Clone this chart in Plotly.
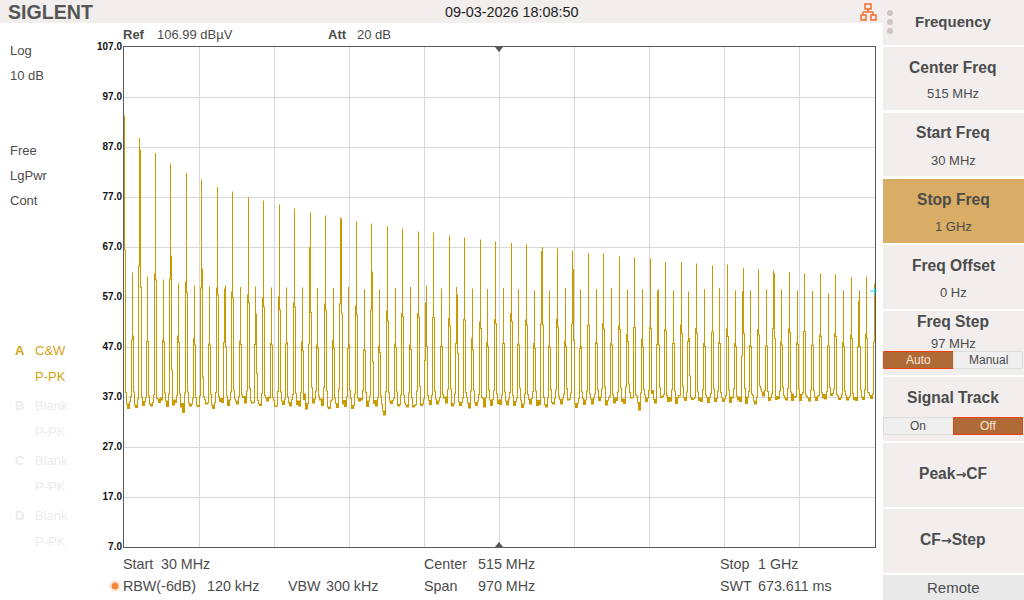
import plotly.graph_objects as go

# Sweep settings of the analyzer
START_MHZ = 30.0
STOP_MHZ = 1000.0
SWEEP_POINTS = 751
REF_DBUV = 107.0
BOTTOM_DBUV = 7.0

# Harmonic comb on a 10 MHz raster, from 30 MHz up to 1 GHz
harmonic_mhz = [
    30, 40, 50, 60, 70, 80, 90, 100, 110, 120, 130, 140, 150, 160, 170, 180, 190, 200, 210, 220,
    230, 240, 250, 260, 270, 280, 290, 300, 310, 320, 330, 340, 350, 360, 370, 380, 390, 400, 410, 420,
    430, 440, 450, 460, 470, 480, 490, 500, 510, 520, 530, 540, 550, 560, 570, 580, 590, 600, 610, 620,
    630, 640, 650, 660, 670, 680, 690, 700, 710, 720, 730, 740, 750, 760, 770, 780, 790, 800, 810, 820,
    830, 840, 850, 860, 870, 880, 890, 900, 910, 920, 930, 940, 950, 960, 970, 980, 990, 1000,
]

# Level of the sweep point on each harmonic
peak_dbuv = [
    93.2, 61.8, 88.7, 61.0, 85.7, 60.4, 83.6, 59.6, 81.7, 59.2, 80.4, 59.0, 78.9, 59.2, 78.0, 58.9, 76.9, 59.0, 76.2, 58.8,
    75.4, 58.8, 74.6, 58.8, 73.8, 58.7, 73.2, 58.7, 72.8, 58.9, 72.0, 58.5, 71.6, 58.4, 71.0, 58.7, 70.6, 58.9, 70.0, 59.2,
    69.8, 58.6, 69.2, 58.9, 68.8, 58.6, 68.4, 58.5, 68.0, 58.7, 67.7, 58.5, 67.4, 58.2, 66.9, 58.2, 66.6, 58.7, 66.2, 58.4,
    65.7, 58.5, 65.6, 58.7, 65.0, 58.4, 64.8, 58.5, 64.6, 58.5, 63.9, 58.2, 63.9, 58.0, 63.6, 58.5, 63.2, 58.7, 63.4, 58.2,
    62.7, 58.2, 62.4, 58.4, 62.2, 58.4, 61.9, 58.2, 61.6, 58.1, 61.6, 57.6, 61.4, 58.2, 60.9, 58.2, 61.0, 59.6,
]

# Level of the sweep point just below each harmonic
lower_skirt_dbuv = [
    None, 48.4, 63.2, 48.1, 61.6, 48.4, 60.6, 49.2, 60.0, 48.7, 58.8, 47.6, 58.8, 58.6, 58.0, 48.2, 57.4, 47.5, 56.8, 47.7,
    57.0, 47.6, 55.8, 48.0, 66.9, 47.4, 55.6, 48.4, 55.6, 46.7, 55.2, 46.4, 54.4, 47.2, 54.2, 47.6, 53.7, 47.4, 53.7, 55.8,
    52.9, 47.2, 52.7, 47.7, 52.5, 48.7, 52.0, 47.9, 52.5, 47.7, 53.7, 47.6, 52.4, 47.7, 66.1, 47.2, 52.6, 48.1, 51.6, 46.7,
    51.4, 47.9, 51.7, 47.7, 51.2, 49.5, 50.9, 48.6, 50.9, 58.2, 50.5, 47.7, 51.4, 48.1, 50.7, 47.7, 50.0, 47.9, 50.6, 47.7,
    58.1, 47.3, 50.5, 47.2, 50.7, 48.0, 50.6, 47.9, 50.1, 47.4, 49.4, 47.2, 49.7, 47.9, 49.4, 56.1, 49.6, 48.0,
]

# Level of the sweep point just above each harmonic
upper_skirt_dbuv = [
    66.4, 49.2, 86.4, 48.1, 60.4, 48.0, 65.2, 47.9, 57.9, 47.4, 62.6, 47.4, 57.4, 47.1, 56.8, 47.5, 55.8, 53.6, 55.0, 47.4,
    54.4, 47.9, 55.0, 46.2, 53.9, 46.7, 54.4, 46.7, 72.6, 47.4, 53.4, 46.3, 62.0, 45.9, 52.2, 46.9, 53.1, 46.5, 52.9, 47.1,
    52.9, 47.1, 51.2, 57.4, 52.4, 46.4, 50.7, 47.1, 51.7, 47.7, 52.1, 47.4, 51.4, 46.7, 51.4, 46.9, 51.0, 47.1, 62.5, 47.1,
    51.4, 47.7, 50.6, 47.4, 50.5, 48.1, 50.9, 47.0, 50.7, 47.4, 50.2, 47.7, 49.7, 48.7, 49.7, 47.1, 50.0, 47.7, 49.1, 47.1,
    49.7, 47.1, 49.4, 47.2, 61.7, 47.4, 49.9, 47.5, 50.1, 47.4, 49.1, 47.2, 49.1, 47.1, 48.7, 47.1, 48.7, None,
]

# Second point out from each harmonic, on the foot of its skirt
lower_foot_dbuv = [
    None, 37.1, 36.6, 36.9, 37.4, 36.4, 37.6, 37.3, 37.8, 36.7, 37.2, 35.8, 37.9, 37.0, 38.0, 37.1, 38.2, 35.9, 37.7, 36.8,
    38.1, 36.6, 37.5, 37.9, 37.4, 38.2, 38.9, 36.4, 38.6, 37.0, 37.6, 38.3, 37.2, 36.9, 38.1, 36.7, 37.4, 37.8, 38.2, 37.0,
    37.3, 36.9, 38.5, 37.6, 36.8, 38.2, 37.5, 36.9, 38.3, 37.4, 37.9, 36.8, 37.6, 38.1, 37.1, 36.9, 38.4, 37.5, 37.8, 36.7,
    38.2, 37.6, 38.6, 37.2, 38.0, 39.0, 36.9, 37.8, 38.3, 37.1, 37.5, 38.4, 37.2, 38.0, 36.9, 38.5, 37.7, 38.2, 37.3, 38.6,
    37.4, 38.1, 37.0, 38.3, 37.6, 38.2, 38.7, 37.1, 37.9, 38.4, 37.3, 38.1, 38.6, 37.5, 37.2, 38.0, 38.5, 37.6,
]
upper_foot_dbuv = [
    37.9, 38.0, 36.8, 37.2, 36.7, 37.8, 38.4, 37.6, 38.0, 36.9, 37.3, 37.5, 37.1, 37.2, 38.4, 37.4, 38.7, 38.1, 37.3, 36.9,
    38.0, 37.0, 37.7, 36.5, 38.9, 37.2, 38.2, 36.7, 37.4, 38.3, 36.8, 37.9, 38.6, 37.2, 37.8, 38.0, 37.4, 36.8, 39.1, 37.3,
    38.2, 37.5, 38.6, 37.1, 37.9, 38.3, 37.0, 38.4, 37.6, 38.0, 37.3, 38.8, 37.5, 38.2, 36.9, 38.5, 37.2, 38.7, 37.1, 38.0,
    37.6, 38.4, 39.0, 37.5, 38.8, 39.6, 37.4, 38.5, 37.7, 38.9, 37.3, 38.2, 39.1, 37.8, 38.0, 37.4, 38.6, 37.9, 38.4, 37.2,
    38.7, 37.6, 39.2, 38.1, 37.5, 39.0, 38.0, 38.6, 37.4, 38.3, 37.8, 38.9, 37.5, 38.2, 37.7, 38.4, 37.9, None,
]

# Isolated points on the flanks of the stronger harmonics
flank_mhz = [52.0, 92.1, 132.2, 158.0, 202.0, 268.0, 311.9, 352.0, 418.0, 462.0, 568.0, 612.0, 718.0, 762.0, 828.0, 872.0, 978.0]
flank_dbuv = [58.9, 42.4, 41.0, 47.9, 41.7, 47.6, 53.6, 44.1, 44.3, 45.7, 51.6, 48.3, 47.5, 41.2, 45.2, 48.7, 47.0]

# Noise floor, one value per sweep point, 25 points to a row
noise_floor_rows = [
    [37.0, 37.4, 37.2, 35.6, 34.7, 36.1, 35.3, 36.4, 35.2, 34.6, 35.8, 35.4, 34.9, 34.6, 36.2, 35.1, 36.7, 35.5, 37.0, 35.3, 36.1, 35.0, 34.9, 36.3, 35.2],
    [36.3, 35.6, 35.2, 35.9, 34.8, 36.5, 35.8, 36.1, 35.5, 36.6, 35.9, 36.8, 36.4, 35.3, 36.7, 35.4, 36.6, 36.2, 35.1, 35.9, 36.4, 35.2, 36.9, 35.6, 35.4],
    [36.4, 35.9, 35.4, 36.5, 34.9, 36.3, 35.6, 35.0, 35.7, 33.9, 35.1, 35.4, 36.2, 35.3, 36.6, 35.8, 35.2, 35.6, 36.2, 35.9, 34.9, 36.4, 35.7, 35.3, 35.1],
    [35.4, 34.8, 35.5, 36.1, 35.3, 37.1, 36.5, 35.6, 35.4, 34.8, 36.3, 35.2, 35.0, 35.4, 34.7, 35.9, 36.3, 36.6, 35.4, 36.1, 35.1, 36.1, 36.7, 35.9, 35.5],
    [36.2, 35.1, 35.6, 35.1, 35.3, 36.4, 36.8, 36.9, 35.2, 36.3, 35.4, 36.6, 36.2, 35.6, 36.3, 36.6, 35.1, 36.4, 35.3, 36.9, 37.1, 35.8, 35.0, 35.9, 36.3],
    [35.3, 36.5, 36.2, 35.8, 35.4, 36.1, 35.2, 36.6, 35.5, 36.3, 35.6, 35.3, 34.9, 35.6, 36.4, 35.2, 36.1, 36.8, 36.2, 37.0, 36.6, 36.2, 35.3, 36.5, 35.4],
    [36.3, 35.1, 35.2, 35.7, 36.2, 36.4, 36.6, 35.3, 36.2, 35.5, 35.8, 36.2, 36.7, 36.1, 36.3, 35.9, 35.2, 36.5, 35.4, 35.6, 36.8, 36.4, 37.3, 35.5, 36.2],
    [35.2, 36.4, 36.2, 35.0, 34.1, 33.5, 37.6, 34.6, 35.7, 35.4, 36.2, 35.3, 36.5, 37.4, 35.8, 36.6, 35.1, 34.7, 35.4, 36.3, 35.2, 36.4, 36.6, 35.3, 35.5],
    [36.3, 35.4, 35.2, 35.9, 35.0, 34.7, 36.2, 35.3, 36.4, 36.8, 35.1, 36.2, 35.7, 34.9, 36.3, 35.4, 36.5, 36.9, 36.7, 35.6, 36.3, 35.1, 36.4, 35.2, 36.1],
    [35.4, 35.9, 36.7, 34.7, 35.3, 34.9, 35.6, 35.3, 36.4, 35.2, 36.2, 36.7, 36.4, 36.1, 36.8, 35.5, 34.2, 34.7, 35.1, 36.2, 35.3, 36.5, 35.8, 35.6, 35.4],
    [35.7, 36.3, 35.2, 35.9, 35.0, 34.9, 35.2, 35.3, 35.5, 34.2, 33.4, 34.6, 34.9, 35.6, 36.4, 35.1, 36.2, 35.7, 36.3, 35.6, 36.2, 36.5, 35.3, 36.4, 35.2],
    [35.5, 35.4, 35.0, 36.5, 34.9, 35.6, 35.8, 35.4, 35.0, 36.3, 35.2, 36.4, 36.1, 35.7, 35.0, 35.3, 35.5, 35.7, 36.5, 35.4, 36.2, 35.1, 35.3, 35.6, 36.6],
    [35.7, 36.4, 35.3, 35.8, 36.1, 36.3, 35.5, 36.5, 35.0, 35.9, 36.2, 35.4, 36.6, 35.6, 36.2, 36.5, 35.7, 35.0, 35.3, 36.2, 36.8, 37.0, 35.8, 36.4, 35.5],
    [36.2, 35.4, 37.2, 35.2, 35.7, 36.3, 36.9, 35.6, 36.4, 35.3, 36.1, 35.3, 35.9, 35.4, 36.1, 35.7, 36.5, 35.6, 36.9, 35.8, 34.8, 36.3, 35.5, 36.4, 35.5],
    [36.2, 35.9, 35.3, 36.2, 36.5, 35.4, 36.6, 35.7, 36.8, 36.7, 35.0, 35.9, 35.4, 35.9, 36.8, 35.5, 36.4, 35.3, 36.5, 36.7, 35.4, 36.5, 36.2, 36.8, 35.7],
    [36.4, 35.5, 36.8, 35.6, 36.2, 35.8, 35.0, 36.2, 35.4, 36.6, 35.9, 36.5, 35.7, 35.2, 36.2, 35.3, 36.1, 35.5, 35.7, 36.4, 35.6, 36.6, 36.4, 34.9, 35.6],
    [36.3, 35.7, 36.6, 36.2, 36.8, 36.5, 35.6, 36.7, 35.4, 36.5, 35.9, 36.4, 35.6, 35.3, 36.3, 35.5, 36.6, 36.7, 36.3, 35.7, 35.9, 35.5, 35.0, 34.7, 35.8],
    [36.4, 35.4, 36.9, 35.9, 35.6, 36.7, 35.4, 36.3, 36.2, 36.3, 36.9, 36.5, 35.6, 36.6, 35.5, 36.5, 35.9, 35.6, 35.2, 36.4, 36.6, 37.0, 35.7, 36.4, 35.5],
    [36.1, 35.7, 34.9, 35.8, 36.7, 36.9, 36.2, 36.3, 35.6, 36.7, 35.5, 36.4, 35.9, 36.5, 35.8, 35.4, 36.3, 36.6, 35.6, 36.8, 35.7, 35.8, 36.2, 36.9, 36.1],
    [36.3, 37.0, 36.7, 35.8, 36.5, 35.6, 36.1, 35.4, 36.3, 36.9, 36.5, 35.7, 36.4, 35.6, 36.7, 35.8, 36.8, 36.3, 36.5, 35.9, 35.7, 36.2, 35.8, 36.1, 36.6],
    [35.7, 36.5, 36.7, 37.2, 38.4, 37.6, 37.9, 36.8, 36.2, 36.9, 35.8, 36.7, 35.9, 37.2, 35.9, 34.4, 36.2, 35.0, 35.8, 36.7, 36.9, 37.4, 36.1, 36.8, 35.7],
    [36.5, 38.2, 37.6, 37.0, 38.3, 36.5, 35.8, 36.9, 36.2, 37.0, 36.3, 35.9, 36.9, 37.1, 36.4, 37.2, 36.8, 35.9, 36.7, 36.1, 36.9, 36.2, 36.6, 37.0, 36.2],
    [36.7, 36.1, 35.7, 36.9, 37.3, 36.5, 35.9, 36.8, 36.1, 36.6, 36.9, 36.3, 37.4, 36.2, 36.8, 35.8, 36.6, 37.0, 36.5, 36.7, 37.4, 37.2, 36.1, 36.9, 35.9],
    [36.3, 36.8, 36.1, 37.0, 37.6, 37.9, 36.8, 36.2, 36.9, 35.9, 37.0, 36.6, 35.8, 36.2, 36.9, 36.4, 36.1, 36.7, 34.9, 36.5, 36.1, 38.2, 37.6, 36.9, 36.1],
    [36.6, 37.1, 36.4, 35.9, 36.8, 36.2, 35.9, 37.0, 36.8, 36.6, 35.9, 37.1, 36.3, 36.9, 36.4, 37.0, 36.1, 36.7, 37.8, 36.5, 36.8, 36.5, 35.7, 37.0, 36.6],
    [36.1, 36.9, 36.3, 36.9, 37.3, 36.2, 35.6, 36.4, 36.8, 35.9, 37.0, 36.2, 38.6, 38.0, 37.2, 36.8, 35.7, 36.4, 37.1, 36.2, 36.3, 36.9, 39.2, 37.0, 36.3],
    [36.9, 36.2, 36.5, 37.1, 36.7, 37.2, 36.6, 36.1, 37.0, 36.4, 37.3, 36.8, 36.4, 37.1, 36.9, 37.0, 36.2, 36.9, 36.3, 37.6, 36.9, 36.4, 37.3, 37.1, 36.4],
    [37.0, 36.3, 37.5, 35.4, 37.5, 35.7, 36.9, 36.4, 37.1, 36.8, 36.2, 37.0, 36.8, 37.2, 36.5, 36.9, 37.0, 36.3, 37.2, 36.5, 36.3, 36.8, 36.4, 37.2, 36.8],
    [37.5, 36.6, 37.0, 36.4, 37.2, 36.5, 36.4, 37.3, 37.7, 36.4, 37.0, 36.3, 37.1, 36.6, 37.2, 36.5, 36.8, 37.1, 36.7, 36.2, 37.0, 36.4, 37.3, 36.4, 36.9],
    [36.2, 37.1, 36.5, 37.2, 36.3, 36.5, 36.9, 36.3, 35.8, 37.1, 36.2, 36.5, 34.5, 37.0, 36.5, 35.2, 37.2, 36.9, 36.6, 37.4, 37.8, 37.3, 36.7, 37.2, 36.4],
    [36.8],
]

# Vertical axis labels
level_ticks = [107.0, 97.0, 87.0, 77.0, 67.0, 57.0, 47.0, 37.0, 27.0, 17.0, 7.0]
level_labels = ["107.0", "97.0", "87.0", "77.0", "67.0", "57.0", "47.0", "37.0", "27.0", "17.0", "7.0"]

# Screen furniture
TRACE = "#C89B00"
TEXT = "#4C4C4C"
DIM = "#ECECEC"
ACCENT = "#D4A414"
BAND = "#F1EEED"
FONT = "Liberation Sans"
ARROW = "<span style=\"font-family:'DejaVu Sans';font-size:13px\">→</span>"

# Assemble the sweep: floor first, then feet, flanks, skirts and harmonics on top
trace = [v for row in noise_floor_rows for v in row]
step = (STOP_MHZ - START_MHZ) / (SWEEP_POINTS - 1)


def point_of(freq):
    return int(round((freq - START_MHZ) / step))


for f, low_foot, high_foot in zip(harmonic_mhz, lower_foot_dbuv, upper_foot_dbuv):
    n = point_of(f)
    if low_foot is not None:
        trace[n - 2] = low_foot
    if high_foot is not None:
        trace[n + 2] = high_foot
for f, level in zip(flank_mhz, flank_dbuv):
    trace[point_of(f)] = level
for f, low, peak, high in zip(harmonic_mhz, lower_skirt_dbuv, peak_dbuv, upper_skirt_dbuv):
    n = point_of(f)
    if low is not None:
        trace[n - 1] = low
    if high is not None:
        trace[n + 1] = high
    trace[n] = peak

# Each sweep point paints one display column, spanning the gap to its neighbours
xs, ys = [], []
for n, v in enumerate(trace):
    prev_v = trace[n - 1] if n else v
    next_v = trace[n + 1] if n < SWEEP_POINTS - 1 else v
    bottom = min(v, prev_v, next_v)
    top = max(v, min(prev_v, next_v))
    f = START_MHZ + n * step
    xs += [f, f, None]
    ys += [bottom - 0.1, top + 0.1, None]

fig = go.Figure()
fig.add_trace(go.Scatter(x=xs, y=ys, mode="lines", line=dict(color=TRACE, width=1), hoverinfo="skip", showlegend=False))


# Screen helpers: pixel positions converted to the plot's paper coordinates
def px(p):
    return (p - 124) / 751


def py(p):
    return 1 - (p - 47) / 500


shapes = []
annotations = []


def rect(x0, y0, x1, y1, fill, line=None, width=1):
    shapes.append(dict(type="rect", xref="paper", yref="paper", x0=px(x0), x1=px(x1), y0=py(y0), y1=py(y1),
                       fillcolor=fill, line=dict(color=line, width=width) if line else dict(width=0), layer="below"))


def poly(points, fill, layer="above"):
    path = "M " + " L ".join(f"{px(a):.5f} {py(b):.5f}" for a, b in points) + " Z"
    shapes.append(dict(type="path", xref="paper", yref="paper", path=path, fillcolor=fill, line=dict(width=0), layer=layer))


def seg(x0, y0, x1, y1, color, width=1):
    shapes.append(dict(type="line", xref="paper", yref="paper", x0=px(x0), x1=px(x1), y0=py(y0), y1=py(y1),
                       line=dict(color=color, width=width), layer="above"))


def label(x, y, text, size=13, color=TEXT, bold=False, anchor="left", family=FONT):
    annotations.append(dict(xref="paper", yref="paper", x=px(x), y=py(y), text=text, showarrow=False, xanchor=anchor,
                            yanchor="middle", borderpad=0, borderwidth=0,
                            font=dict(family=family, size=size, color=color, weight="bold" if bold else "normal")))


# Title band
rect(0, 0, 883, 23, BAND)
label(8, 12, "SIGLENT", size=19.6, color="#555555", bold=True)
label(512, 12, "09-03-2026 18:08:50", size=14.4, color="#222222", anchor="center")

# Network status icon
ICON = "#F0702C"
for x0, y0, x1, y1 in [(865, 4, 871, 9), (861, 15, 866, 20), (871, 15, 876, 20)]:
    shapes.append(dict(type="rect", xref="paper", yref="paper", x0=px(x0), x1=px(x1), y0=py(y0), y1=py(y1),
                       line=dict(color=ICON, width=1.5), layer="above"))
seg(868, 9, 868, 12, ICON, 1.5)
seg(863, 12, 873, 12, ICON, 1.5)
seg(863, 12, 863, 15, ICON, 1.5)
seg(873, 12, 873, 15, ICON, 1.5)

# Softkey column
rect(883, 0, 1024, 45, BAND)
for top, bottom, fill in [(47, 110, BAND), (113, 176, BAND), (179, 243, "#D9AD65"), (245, 309, BAND), (311, 375, BAND),
                          (377, 441, BAND), (443, 507, BAND), (509, 573, BAND), (575, 600, "#E9E9E9")]:
    rect(883, top, 1024, bottom, fill)
for dot_y in (13, 22, 31):
    shapes.append(dict(type="circle", xref="paper", yref="paper", x0=px(887), x1=px(893), y0=py(dot_y - 3), y1=py(dot_y + 3),
                       fillcolor="#CFC6C2", line=dict(width=0), layer="below"))

label(953, 22, "Frequency", size=15, bold=True, anchor="center")
label(953, 67, "Center Freq", size=15.6, bold=True, anchor="center")
label(953, 94, "515 MHz", size=13, anchor="center")
label(953, 133, "Start Freq", size=15.6, bold=True, anchor="center")
label(953, 160, "30 MHz", size=13, anchor="center")
label(953, 199, "Stop Freq", size=15.6, bold=True, anchor="center")
label(953, 226, "1 GHz", size=13, anchor="center")
label(953, 265, "Freq Offset", size=15.6, bold=True, anchor="center")
label(953, 292, "0 Hz", size=13, anchor="center")
label(953, 321, "Freq Step", size=15.6, bold=True, anchor="center")
label(953, 343, "97 MHz", size=13, anchor="center")
label(953, 397, "Signal Track", size=15.6, bold=True, anchor="center")
label(953, 473, "Peak" + ARROW + "CF", size=15.6, bold=True, anchor="center")
label(953, 539, "CF" + ARROW + "Step", size=15.6, bold=True, anchor="center")
label(953, 587, "Remote", size=15, anchor="center")

rect(883.5, 351.5, 953.5, 368.5, "#B06A35", "#F04010")
rect(953.5, 351.5, 1022.5, 368.5, "#EFEFEF", "#DEDEDE")
label(918, 360, "Auto", size=12, color="#F2E6DC", anchor="center")
label(988, 360, "Manual", size=12, anchor="center")
rect(883.5, 417.5, 953.5, 434.5, "#EFEFEF", "#DEDEDE")
rect(953.5, 417.5, 1022.5, 434.5, "#B06A35", "#F04010")
label(918, 426, "On", size=12, anchor="center")
label(988, 426, "Off", size=12, color="#F2E6DC", anchor="center")

# Left status column
for y, text in [(50, "Log"), (75, "10 dB"), (150, "Free"), (175, "LgPwr"), (200, "Cont")]:
    label(10, y, text)
label(15, 350, "A", color=ACCENT, bold=True)
label(35, 350, "C&amp;W", color=ACCENT)
label(35, 376, "P-PK", color=ACCENT)
for y, letter in [(405, "B"), (460, "C"), (515, "D")]:
    label(15, y, letter, color=DIM, bold=True)
    label(35, y, "Blank", color=DIM)
    label(35, y + 26, "P-PK", color=DIM)

# Header above the graticule
label(123, 35, "Ref", bold=True)
label(157, 35, "106.99 dBµV")
label(328, 35, "Att", bold=True)
label(357, 35, "20 dB")

# Footer below the graticule
for x, y, text in [(123, 564, "Start"), (161, 564, "30 MHz"), (424, 564, "Center"), (478, 564, "515 MHz"),
                   (720, 564, "Stop"), (758, 564, "1 GHz"), (123, 586, "RBW(-6dB)"), (207, 586, "120 kHz"),
                   (288, 586, "VBW"), (326, 586, "300 kHz"), (424, 586, "Span"), (478, 586, "970 MHz"),
                   (720, 586, "SWT"), (758, 586, "673.611 ms")]:
    label(x, y, text, size=14.3)

# Sweep status lamp
shapes.append(dict(type="circle", xref="paper", yref="paper", x0=px(109), x1=px(121), y0=py(580), y1=py(592),
                   fillcolor="rgba(250,170,110,0.25)", line=dict(width=0), layer="above"))
shapes.append(dict(type="circle", xref="paper", yref="paper", x0=px(111.5), x1=px(118.5), y0=py(582.5), y1=py(589.5),
                   fillcolor="#F5893A", line=dict(width=0), layer="above"))

# Centre-frequency pointers and the reference marker on the right edge
poly([(495, 47), (503, 47), (499, 52)], "#555555")
poly([(495, 547), (503, 547), (499, 542)], "#555555")
seg(870, 291, 877, 291, "#25D8E8", 1)
seg(874.5, 288, 874.5, 295, "#25D8E8", 1)

half = step / 2
fig.update_layout(
    width=1024,
    height=600,
    autosize=False,
    margin=dict(l=124, r=149, t=47, b=53, pad=0),
    paper_bgcolor="white",
    plot_bgcolor="white",
    showlegend=False,
    shapes=shapes,
    annotations=annotations,
    xaxis=dict(
        range=[START_MHZ - half, STOP_MHZ + half],
        tickmode="array",
        tickvals=[127, 224, 321, 418, 515, 612, 709, 806, 903],
        showticklabels=False,
        ticks="",
        showgrid=True,
        gridcolor="#D8D8D8",
        gridwidth=1,
        zeroline=False,
        showline=True,
        linecolor="#5A5A5A",
        linewidth=1,
        mirror=True,
    ),
    yaxis=dict(
        range=[BOTTOM_DBUV, REF_DBUV],
        tickmode="array",
        tickvals=level_ticks,
        ticktext=level_labels,
        ticks="",
        tickfont=dict(family=FONT, size=10, color="#111111", weight="bold"),
        ticklabelstandoff=-1,
        ticklabelshift=-1,
        showgrid=True,
        gridcolor="#D8D8D8",
        gridwidth=1,
        zeroline=False,
        showline=True,
        linecolor="#5A5A5A",
        linewidth=1,
        mirror=True,
    ),
)

fig.write_html("out.html")
